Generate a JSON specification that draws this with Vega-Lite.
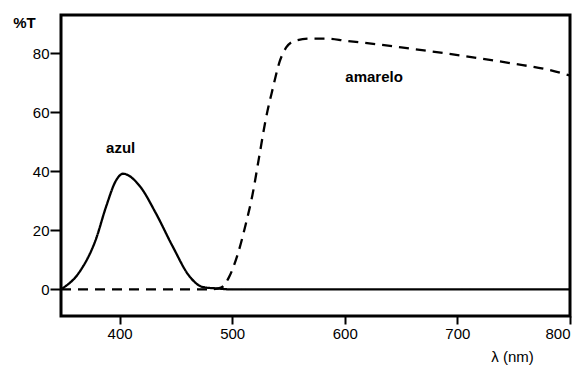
{
  "$schema": "https://vega.github.io/schema/vega-lite/v6.json",
  "width": 509,
  "height": 301,
  "autosize": {"type": "none"},
  "padding": {"left": 61, "top": 15, "right": 15, "bottom": 59},
  "background": "white",
  "config": {
    "view": {"stroke": "black", "strokeWidth": 3},
    "font": "Liberation Sans"
  },
  "datasets": {
    "curves": [
      {"nm": 349, "T": 0.3, "serie": "azul"},
      {"nm": 364, "T": 5.7, "serie": "azul"},
      {"nm": 379, "T": 17, "serie": "azul"},
      {"nm": 388, "T": 28, "serie": "azul"},
      {"nm": 397, "T": 37, "serie": "azul"},
      {"nm": 403, "T": 39.2, "serie": "azul"},
      {"nm": 418, "T": 35, "serie": "azul"},
      {"nm": 432, "T": 26, "serie": "azul"},
      {"nm": 447, "T": 14.7, "serie": "azul"},
      {"nm": 462, "T": 4.5, "serie": "azul"},
      {"nm": 474, "T": 0.8, "serie": "azul"},
      {"nm": 488, "T": 0.3, "serie": "azul"},
      {"nm": 500, "T": 0, "serie": "azul"},
      {"nm": 800, "T": 0, "serie": "azul"},
      {"nm": 348, "T": 0, "serie": "amarelo"},
      {"nm": 480, "T": 0, "serie": "amarelo"},
      {"nm": 490, "T": 0.6, "serie": "amarelo"},
      {"nm": 497, "T": 4, "serie": "amarelo"},
      {"nm": 505, "T": 12, "serie": "amarelo"},
      {"nm": 512, "T": 22, "serie": "amarelo"},
      {"nm": 518, "T": 32, "serie": "amarelo"},
      {"nm": 524, "T": 45, "serie": "amarelo"},
      {"nm": 530, "T": 58, "serie": "amarelo"},
      {"nm": 536, "T": 68, "serie": "amarelo"},
      {"nm": 542, "T": 77, "serie": "amarelo"},
      {"nm": 548, "T": 82, "serie": "amarelo"},
      {"nm": 556, "T": 84.3, "serie": "amarelo"},
      {"nm": 570, "T": 85, "serie": "amarelo"},
      {"nm": 585, "T": 85, "serie": "amarelo"},
      {"nm": 600, "T": 84.3, "serie": "amarelo"},
      {"nm": 630, "T": 83, "serie": "amarelo"},
      {"nm": 660, "T": 81.5, "serie": "amarelo"},
      {"nm": 690, "T": 80, "serie": "amarelo"},
      {"nm": 720, "T": 78.3, "serie": "amarelo"},
      {"nm": 750, "T": 76.5, "serie": "amarelo"},
      {"nm": 780, "T": 74.5, "serie": "amarelo"},
      {"nm": 800, "T": 72.5, "serie": "amarelo"}
    ],
    "labels": [
      {"nm": 401, "T": 48, "label": "azul"},
      {"nm": 626, "T": 72, "label": "amarelo"}
    ]
  },
  "layer": [
    {
      "data": {"name": "curves"},
      "mark": {"type": "line", "color": "black", "strokeWidth": 2.3, "interpolate": "monotone", "clip": true},
      "encoding": {
        "x": {
          "field": "nm", "type": "quantitative",
          "scale": {"domain": [348, 800], "nice": false, "zero": false},
          "axis": {
            "values": [400, 500, 600, 700, 800],
            "domain": false, "grid": false,
            "tickColor": "black", "tickWidth": 2, "tickSize": 8,
            "labelFont": "Liberation Sans", "labelFontSize": 15, "labelColor": "black", "labelPadding": 2,
            "title": "λ (nm)", "titleFont": "Liberation Sans", "titleFontSize": 15, "titleFontWeight": "normal", "titleColor": "black",
            "titleX": 451, "titleY": 40, "titleAlign": "center", "titleBaseline": "middle"
          }
        },
        "y": {
          "field": "T", "type": "quantitative",
          "scale": {"domain": [-9, 93], "nice": false, "zero": false},
          "axis": {
            "values": [0, 20, 40, 60, 80],
            "domain": false, "grid": false,
            "tickColor": "black", "tickWidth": 2, "tickSize": 11,
            "labelFont": "Liberation Sans", "labelFontSize": 15, "labelColor": "black", "labelPadding": 1,
            "title": "%T", "titleFont": "Liberation Sans", "titleFontSize": 15, "titleFontWeight": "bold", "titleColor": "black",
            "titleAngle": 0, "titleX": -37, "titleY": 7, "titleAlign": "center", "titleBaseline": "middle"
          }
        },
        "detail": {"field": "serie"},
        "strokeDash": {
          "field": "serie", "type": "nominal",
          "scale": {"domain": ["azul", "amarelo"], "range": [[1, 0], [10, 7]]},
          "legend": null
        }
      }
    },
    {
      "data": {"name": "labels"},
      "mark": {"type": "text", "font": "Liberation Sans", "fontSize": 15, "fontWeight": "bold", "color": "black", "align": "center", "baseline": "middle"},
      "encoding": {
        "x": {"field": "nm", "type": "quantitative"},
        "y": {"field": "T", "type": "quantitative"},
        "text": {"field": "label"}
      }
    }
  ]
}
